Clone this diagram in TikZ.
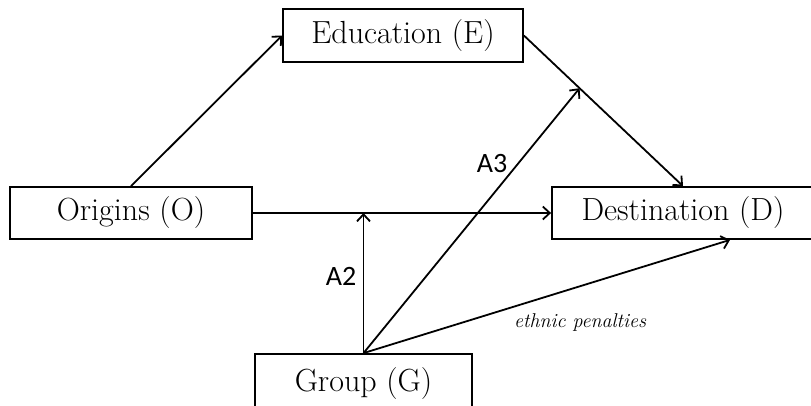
\documentclass[tikz,border=0pt]{standalone}
\usepackage{fontspec}
\newfontfamily\labfont{Carlito}
\usetikzlibrary{arrows.meta,calc}
\begin{document}
\begin{tikzpicture}[x=1pt,y=-1pt,
  box/.style={draw,line width=1.8pt,inner sep=0pt,font=\fontsize{32}{36}\selectfont},
  conn/.style={line width=1.8pt,-{Straight Barb[length=7pt,width=13pt,line width=1.8pt]}},
  alab/.style={font=\labfont\fontsize{28}{32}\selectfont,inner sep=0pt},
  elab/.style={font=\itshape\fontsize{20}{24}\selectfont,inner sep=0pt}]
\useasboundingbox (0,0) rectangle (811,405);
\begin{scope}
\clip (0,0) rectangle (811,405);
\node[box,minimum width=240pt,minimum height=53pt] (E) at (403,35.5) {Education (E)};
\node[box,minimum width=242pt,minimum height=52pt] (O) at (131,213) {Origins (O)};
\node[box,minimum width=262pt,minimum height=52pt] (D) at (683,213) {Destination (D)};
\node[box,minimum width=217pt,minimum height=60pt] (G) at (363.5,384) {Group (G)};
\coordinate (A2end) at (G.north |- O.east);
\coordinate (A3end) at ($(E.east)!0.35!(D.north)$);
\coordinate (EPend) at ($(D.south)+(47,0)$);
\draw[conn] (O.north) -- (E.west);
\draw[conn] (E.east) -- (D.north);
\draw[conn] (O.east) -- (D.west);
\draw[conn] (G.north) -- (A2end);
\draw[conn] (G.north) -- (A3end);
\draw[conn] (G.north) -- (EPend);
\end{scope}
\node[alab] (A2) at (341,276) {A2};
\node[alab] (A3) at (492,164) {A3};
\node[elab] (EP) at (580,322) {ethnic penalties};
\end{tikzpicture}
\end{document}
